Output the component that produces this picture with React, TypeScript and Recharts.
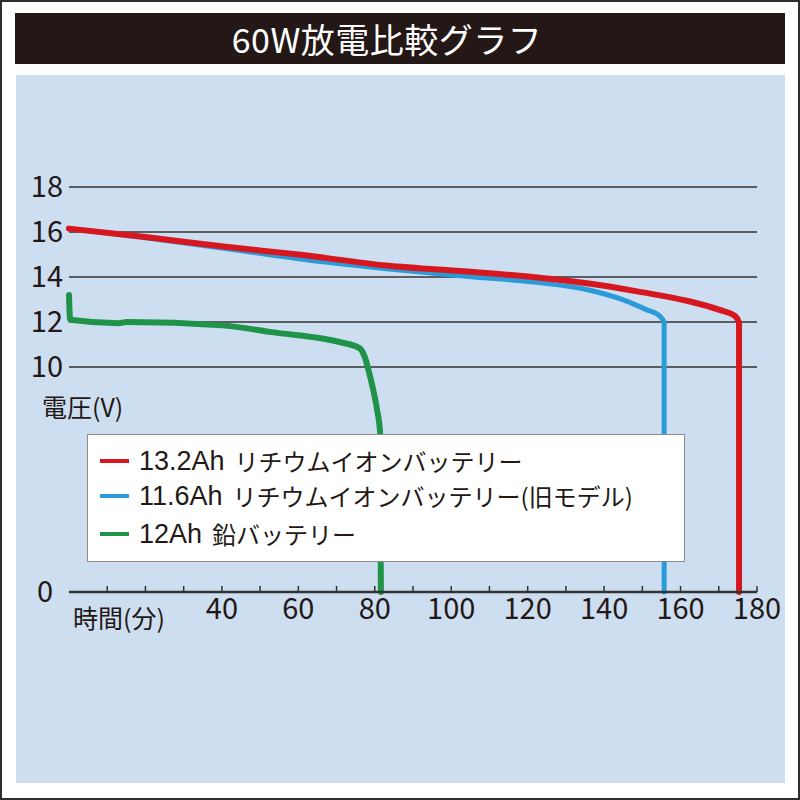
import { CartesianGrid, Legend, Line, LineChart, XAxis, YAxis } from "recharts";

const TITLE = "60W放電比較グラフ";
const Y_LABEL = "電圧(V)";
const X_LABEL = "時間(分)";

// series: name, colour
const seriesNames = [
  "13.2Ah リチウムイオンバッテリー",
  "11.6Ah リチウムイオンバッテリー(旧モデル)",
  "12Ah 鉛バッテリー",
];
const seriesColors = ["#d7171f", "#2a9bd9", "#1f9348"];

// t = minutes, v = volts
const li132 = [
  { t: 0, v: 16.15 },
  { t: 20, v: 15.78 },
  { t: 41, v: 15.34 },
  { t: 60, v: 15.0 },
  { t: 83, v: 14.51 },
  { t: 106, v: 14.22 },
  { t: 123, v: 13.97 },
  { t: 136, v: 13.71 },
  { t: 149, v: 13.35 },
  { t: 162.5, v: 12.91 },
  { t: 170, v: 12.55 },
  { t: 174.3, v: 12.26 },
  { t: 175.3, v: 11.97 },
  { t: 175.3, v: 0 },
];
const li116 = [
  { t: 0, v: 16.15 },
  { t: 20, v: 15.74 },
  { t: 41, v: 15.27 },
  { t: 60, v: 14.81 },
  { t: 83, v: 14.37 },
  { t: 106, v: 14.0 },
  { t: 123, v: 13.75 },
  { t: 136, v: 13.42 },
  { t: 145, v: 12.98 },
  { t: 151, v: 12.55 },
  { t: 154.6, v: 12.26 },
  { t: 155.7, v: 11.97 },
  { t: 155.7, v: 0 },
];
const lead12 = [
  { t: 0, v: 13.2 },
  { t: 0.3, v: 12.1 },
  { t: 13, v: 11.95 },
  { t: 15, v: 12.0 },
  { t: 40, v: 11.85 },
  { t: 53, v: 11.55 },
  { t: 71, v: 11.1 },
  { t: 76, v: 10.84 },
  { t: 77.4, v: 10.44 },
  { t: 78.8, v: 9.56 },
  { t: 80.6, v: 8.09 },
  { t: 81.4, v: 7.07 },
  { t: 81.6, v: 0 },
];
const seriesData = [li132, li116, lead12];

const yTicks = [0, 10, 12, 14, 16, 18];
const xTicks = [10, 20, 30, 40, 50, 60, 70, 80, 90, 100, 110, 120, 130, 140, 150, 160, 170, 180];
const xTickLabels = [40, 60, 80, 100, 120, 140, 160, 180];

const INK = "#231815";
const LINE_INK = "#333333";
const PANEL = "#cddef0";
const LATIN = "'Liberation Sans Narrow', 'Noto Sans CJK JP', sans-serif";
const LEGEND_LATIN = "'Liberation Sans', sans-serif";
const CJK = "'Noto Sans CJK JP', sans-serif";

function XTick(props: any) {
  const { x, y, payload } = props;
  const v = payload.value;
  return (
    <g>
      <line x1={x} x2={x} y1={y} y2={y - 6} stroke={LINE_INK} strokeWidth={1.5} />
      {xTickLabels.includes(v) && (
        <text x={x} y={y + 27} textAnchor="middle" fill={INK} fontFamily={LATIN} fontSize={29}>
          {v}
        </text>
      )}
    </g>
  );
}

function YTick(props: any) {
  const { x, y, payload } = props;
  const v = payload.value;
  return (
    <text
      x={v === 0 ? x - 10 : x}
      y={y + 10}
      textAnchor="end"
      fill={INK}
      fontFamily={LATIN}
      fontSize={29}
    >
      {v}
    </text>
  );
}

function LegendBox() {
  const rowCenters = [26, 61, 99];
  return (
    <div
      style={{
        position: "relative",
        width: 598,
        height: 128,
        boxSizing: "border-box",
        background: "#ffffff",
        border: "1.5px solid #8c8c8c",
      }}
    >
      {seriesNames.map((name, i) => {
        const cut = name.indexOf(" ");
        return (
          <div
            key={name}
            style={{
              position: "absolute",
              left: 12,
              top: rowCenters[i] - 13,
              height: 26,
              lineHeight: "26px",
              display: "flex",
              alignItems: "center",
              whiteSpace: "nowrap",
              color: INK,
            }}
          >
            <span
              style={{
                display: "inline-block",
                width: 29,
                height: 4,
                background: seriesColors[i],
                marginRight: 10,
              }}
            />
            <span style={{ fontFamily: LEGEND_LATIN, fontSize: 27, lineHeight: "26px" }}>
              {name.slice(0, cut)}
            </span>
            <span style={{ fontFamily: CJK, fontSize: 24, lineHeight: "26px", marginLeft: 10 }}>
              {name.slice(cut + 1)}
            </span>
          </div>
        );
      })}
    </div>
  );
}

export default function App() {
  return (
    <div
      style={{
        position: "absolute",
        left: 0,
        top: 0,
        width: 800,
        height: 800,
        boxSizing: "border-box",
        border: "2px solid #2e2e2e",
        background: "#ffffff",
        overflow: "hidden",
      }}
    >
      <div
        style={{
          position: "absolute",
          left: 13,
          top: 11,
          width: 770,
          height: 51,
          boxSizing: "border-box",
          paddingRight: 26,
          background: INK,
          color: "#ffffff",
          fontFamily: CJK,
          fontSize: 34,
          letterSpacing: 0.5,
          lineHeight: "51px",
          textAlign: "center",
        }}
      >
        {TITLE}
      </div>
      <div
        style={{
          position: "absolute",
          left: 14,
          top: 73,
          width: 769,
          height: 708,
          background: PANEL,
        }}
      >
        <LineChart
          width={769}
          height={708}
          margin={{ top: 112, right: 28, bottom: 151, left: 0 }}
        >
          <CartesianGrid vertical={false} stroke={LINE_INK} strokeWidth={1.5} />
          <XAxis
            type="number"
            dataKey="t"
            domain={[0, 180]}
            ticks={xTicks}
            interval={0}
            height={40}
            tickSize={0}
            tickMargin={0}
            tickLine={false}
            axisLine={{ stroke: LINE_INK, strokeWidth: 2.5 }}
            tick={XTick}
          />
          <YAxis
            type="number"
            dataKey="v"
            domain={[0, 18]}
            ticks={yTicks}
            interval={0}
            width={53}
            tickSize={0}
            tickMargin={6}
            tickLine={false}
            axisLine={false}
            tick={YTick}
          />
          <Legend
            layout="horizontal"
            verticalAlign="middle"
            align="center"
            content={() => <LegendBox />}
            wrapperStyle={{ left: 71, top: 359, width: 598, height: 128 }}
          />
          {[2, 1, 0].map((i) => (
            <Line
              key={seriesNames[i]}
              data={seriesData[i]}
              dataKey="v"
              name={seriesNames[i]}
              type="monotone"
              stroke={seriesColors[i]}
              strokeWidth={i === 1 ? 5 : 6}
              strokeLinecap="round"
              strokeLinejoin="round"
              dot={false}
              activeDot={false}
              isAnimationActive={false}
            />
          ))}
        </LineChart>
        <div
          style={{
            position: "absolute",
            left: 26,
            top: 316,
            fontFamily: CJK,
            fontSize: 25,
            lineHeight: "30px",
            color: INK,
            whiteSpace: "nowrap",
          }}
        >
          {Y_LABEL}
        </div>
        <div
          style={{
            position: "absolute",
            left: 57,
            top: 527,
            fontFamily: CJK,
            fontSize: 25,
            lineHeight: "30px",
            color: INK,
            whiteSpace: "nowrap",
          }}
        >
          {X_LABEL}
        </div>
      </div>
    </div>
  );
}
